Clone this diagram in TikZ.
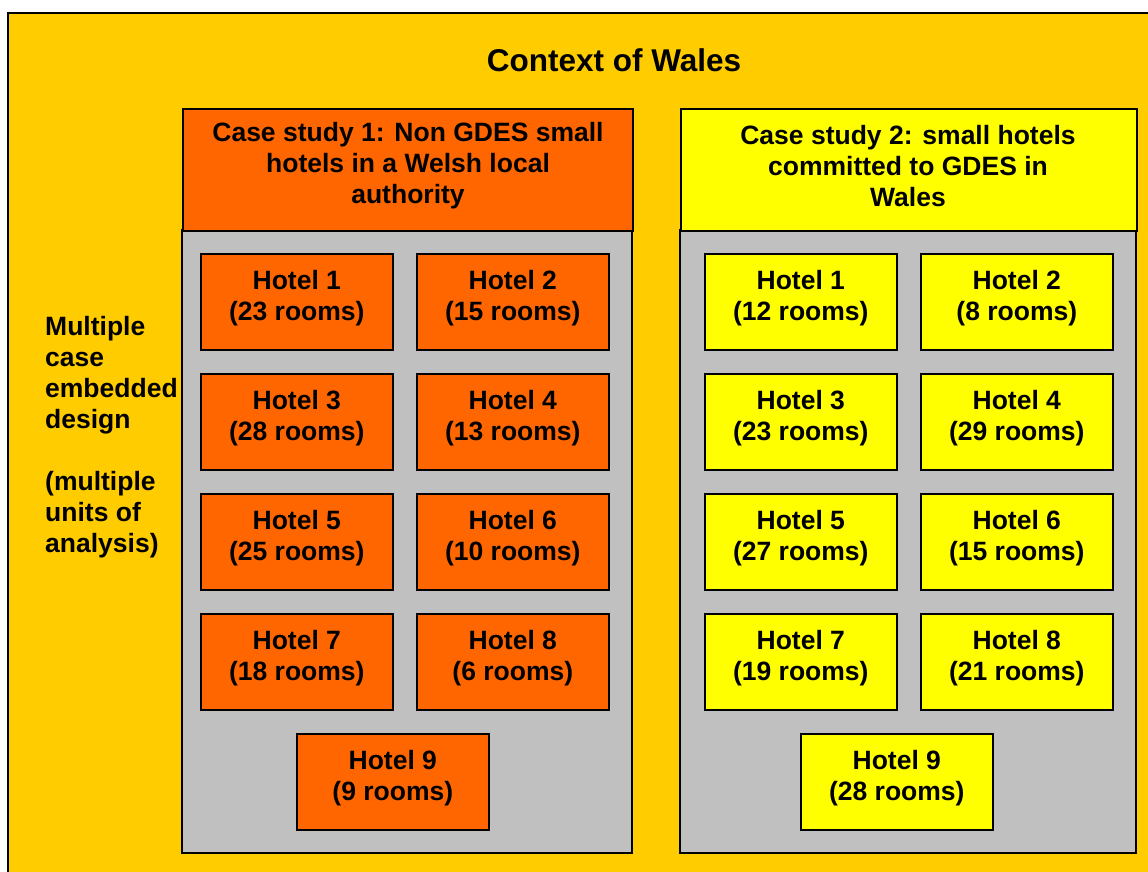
\documentclass[tikz,border=0pt]{standalone}
\usepackage{fontspec}
\setmainfont{Liberation Sans}
\definecolor{walesbg}{HTML}{FFCC00}
\definecolor{caseorange}{HTML}{FF6600}
\definecolor{caseyellow}{HTML}{FFFF00}
\definecolor{panelgrey}{HTML}{C0C0C0}
\tikzset{
  frame/.style={draw=black, line width=1.6pt},
  txt/.style={font=\fontsize{26.5}{31}\selectfont\bfseries, align=center, inner sep=0pt},
  hotelbox/.style={frame, minimum width=192pt, minimum height=96pt, inner sep=0pt, anchor=north west},
  orangehotel/.style={hotelbox, fill=caseorange},
  yellowhotel/.style={hotelbox, fill=caseyellow},
}
\begin{document}
\begin{tikzpicture}[x=1pt,y=-1pt]
\useasboundingbox (0,0) rectangle (1148,871);
\clip (0,0) rectangle (1148,871);
% outer context
\draw[frame, fill=walesbg] (8,13) rectangle (1170,890);
\node[txt, font=\fontsize{31.5}{36}\selectfont\bfseries] (title) at (614,60) {Context of Wales};
% left label
\node[txt, align=left, anchor=north west] (design) at (45,316)
  {Multiple\\case\\embedded\\design\\[31pt](multiple\\units of\\analysis)};
% panel 1
\draw[frame, fill=panelgrey] (182,230) rectangle (632,853);
\node[frame, fill=caseorange, minimum width=450pt, minimum height=122pt, anchor=north west, inner sep=0pt] (h1) at (182,108) {};
\node[txt] at (408,166) {Case study 1: Non GDES small\\hotels in a Welsh local\\authority};
% panel 2
\draw[frame, fill=panelgrey] (680,230) rectangle (1136,853);
\node[frame, fill=caseyellow, minimum width=456pt, minimum height=122pt, anchor=north west, inner sep=0pt] (h2) at (680,108) {};
\node[txt] at (908,166) {Case study 2: small hotels\\committed to GDES in\\Wales};
% hotels panel 1
\node[orangehotel] (a1) at (200,253) {};
\node[orangehotel] (a2) at (416,253) {};
\node[orangehotel] (a3) at (200,373) {};
\node[orangehotel] (a4) at (416,373) {};
\node[orangehotel] (a5) at (200,493) {};
\node[orangehotel] (a6) at (416,493) {};
\node[orangehotel] (a7) at (200,613) {};
\node[orangehotel] (a8) at (416,613) {};
\node[orangehotel] (a9) at (296,733) {};
\node[txt] at ([yshift=4pt]a1.center) {Hotel 1\\(23 rooms)};
\node[txt] at ([yshift=4pt]a2.center) {Hotel 2\\(15 rooms)};
\node[txt] at ([yshift=4pt]a3.center) {Hotel 3\\(28 rooms)};
\node[txt] at ([yshift=4pt]a4.center) {Hotel 4\\(13 rooms)};
\node[txt] at ([yshift=4pt]a5.center) {Hotel 5\\(25 rooms)};
\node[txt] at ([yshift=4pt]a6.center) {Hotel 6\\(10 rooms)};
\node[txt] at ([yshift=4pt]a7.center) {Hotel 7\\(18 rooms)};
\node[txt] at ([yshift=4pt]a8.center) {Hotel 8\\(6 rooms)};
\node[txt] at ([yshift=4pt]a9.center) {Hotel 9\\(9 rooms)};
% hotels panel 2
\node[yellowhotel] (b1) at (704,253) {};
\node[yellowhotel] (b2) at (920,253) {};
\node[yellowhotel] (b3) at (704,373) {};
\node[yellowhotel] (b4) at (920,373) {};
\node[yellowhotel] (b5) at (704,493) {};
\node[yellowhotel] (b6) at (920,493) {};
\node[yellowhotel] (b7) at (704,613) {};
\node[yellowhotel] (b8) at (920,613) {};
\node[yellowhotel] (b9) at (800,733) {};
\node[txt] at ([yshift=4pt]b1.center) {Hotel 1\\(12 rooms)};
\node[txt] at ([yshift=4pt]b2.center) {Hotel 2\\(8 rooms)};
\node[txt] at ([yshift=4pt]b3.center) {Hotel 3\\(23 rooms)};
\node[txt] at ([yshift=4pt]b4.center) {Hotel 4\\(29 rooms)};
\node[txt] at ([yshift=4pt]b5.center) {Hotel 5\\(27 rooms)};
\node[txt] at ([yshift=4pt]b6.center) {Hotel 6\\(15 rooms)};
\node[txt] at ([yshift=4pt]b7.center) {Hotel 7\\(19 rooms)};
\node[txt] at ([yshift=4pt]b8.center) {Hotel 8\\(21 rooms)};
\node[txt] at ([yshift=4pt]b9.center) {Hotel 9\\(28 rooms)};
\end{tikzpicture}
\end{document}
